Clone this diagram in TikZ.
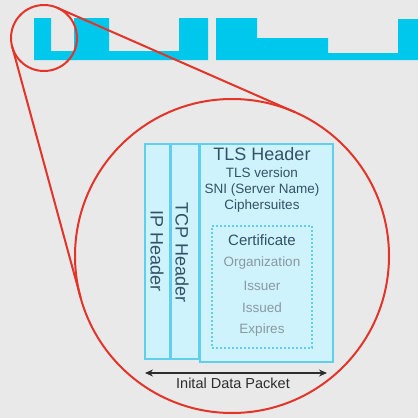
\documentclass[tikz,border=0pt]{standalone}
\usepackage{fontspec}
\setmainfont{Liberation Sans}
\definecolor{pktbg}{RGB}{233,233,233}
\definecolor{pktcyan}{RGB}{0,199,236}
\definecolor{pktedge}{RGB}{95,207,240}
\definecolor{pktfill}{RGB}{206,243,252}
\definecolor{pktred}{RGB}{228,52,40}
\definecolor{pkttext}{RGB}{52,82,102}
\definecolor{pktgray}{RGB}{138,152,162}
\definecolor{pktdark}{RGB}{45,45,45}
\usetikzlibrary{arrows.meta,calc,positioning}
\tikzset{
  layer/.style={rectangle,draw=pktedge,fill=pktfill,line width=1.5pt,
                inner sep=0pt,anchor=north west},
  lens/.style={circle,draw=pktred,line width=2pt,inner sep=0pt,outer sep=0pt},
  lensline/.style={draw=pktred,line width=2pt},
  certbox/.style={rectangle,draw=pktedge,dash pattern=on 2pt off 2pt,
                  line width=1.2pt,inner sep=0pt},
  hdr/.style={text=pkttext,font=\fontsize{18}{20}\selectfont,inner sep=0pt},
  info/.style={text=pkttext,font=\fontsize{13.5}{16}\selectfont,
               align=center,inner sep=0pt},
  certitem/.style={text=pktgray,font=\fontsize{13.5}{16}\selectfont,inner sep=0pt},
  arr/.style={{Stealth[length=8pt,width=7pt]}-{Stealth[length=8pt,width=7pt]},
              line width=1.2pt,pktdark},
}
\begin{document}
\begin{tikzpicture}[x=1pt,y=-1pt]
    \useasboundingbox (0,0) rectangle (418,418);
    \fill[pktbg] (0,0) rectangle (418,418);
    \fill[pktcyan] (34,18) -- (51,18) -- (51,51) -- (74,51) -- (74,18)
          -- (109,18) -- (109,51) -- (179,51) -- (179,18) -- (208,18)
          -- (208,60) -- (34,60) -- cycle;
    \fill[pktcyan] (216,18) -- (257,18) -- (257,38) -- (328,38) -- (328,53)
          -- (398,53) -- (398,19) -- (418,19) -- (418,60) -- (216,60) -- cycle;
    \node[lens,minimum size=66pt] (zoom) at (44,38) {};
    \node[lens,minimum size=314pt] (big) at (232,256) {};
    \coordinate (vp) at ($(zoom)!{-33/124}!(big)$);
    \foreach \s in {1,2}{
      \draw[lensline] (tangent cs:node=zoom,point={(vp)},solution=\s)
            -- (tangent cs:node=big,point={(vp)},solution=\s);
    }
    \node[layer,minimum width=25pt,minimum height=215pt] (ip) at (144,143) {};
    \node[layer,minimum width=27pt,minimum height=215pt] (tcp) at (ip.north east) {};
    \node[layer,minimum width=133pt,minimum height=218pt] (tls) at (tcp.north east) {};
    \node[hdr,rotate=-90] (iplab) at (157,251) {IP Header};
    \node[hdr,rotate=-90] (tcplab) at (182,253) {TCP Header};
    \node[hdr] (tlslab) at (262,154) {TLS Header};
    \node[info] (tlsinfo) at (262,190) {TLS version\\SNI (Server Name)\\Ciphersuites};
    \node[certbox,minimum width=100pt,minimum height=122pt] (cert) at (262,287) {};
    \node[hdr,font=\fontsize{15}{17}\selectfont] (certlab) at (262,240) {Certificate};
    \foreach \y/\lab in {263/Organization,286/Issuer,308/Issued,330/Expires}{
      \node[certitem] at (262,\y) {\lab};
    }
    \coordinate (pktl) at (145,373);
    \coordinate (pktr) at (327,373);
    \draw[arr] (pktl) -- (pktr);
    \node[text=pktdark,font=\fontsize{14.5}{16}\selectfont,inner sep=0pt]
          (pktlab) at (233,383) {Inital Data Packet};
  \end{tikzpicture}
\end{document}
